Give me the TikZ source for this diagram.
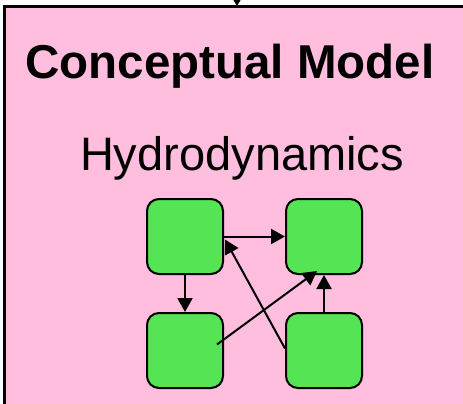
\documentclass[tikz,border=0pt]{standalone}
\usepackage{fontspec}
\setmainfont{Liberation Sans}
\usetikzlibrary{arrows.meta,positioning}

\definecolor{modelpink}{RGB}{255,190,222}
\definecolor{procgreen}{RGB}{84,228,84}

\begin{document}
\begin{tikzpicture}[x=1pt, y=-1pt,
      node distance=37pt and 61pt,
      blk/.style={draw, line width=2pt, rounded corners=12pt, fill=procgreen,
                  minimum width=76pt, minimum height=75pt, inner sep=0pt},
      arr/.style={-{Triangle[length=14pt, width=15pt]}, line width=2pt}]
    \useasboundingbox (0,0) rectangle (463,404);
    % outer frame, cut off at the right and at the bottom
    \draw[line width=3pt, fill=modelpink] (4,7) rectangle (475,420);
    \coordinate (feed) at (237,-4);
    \coordinate (top) at (237,6);
    \draw[-{Triangle[length=7pt, width=8pt]}, line width=2pt] (feed) -- (top);
    \node[anchor=base, font=\fontsize{47.5}{52}\selectfont\bfseries] (title) at (230,78) {Conceptual Model};
    \node[anchor=base, font=\fontsize{47}{52}\selectfont] (sub) at (242,170) {Hydrodynamics};
    \node[blk] (tl) at (185,236.5) {};
    \node[blk, right=of tl] (tr) {};
    \node[blk, below=of tl] (bl) {};
    \node[blk, below=of tr] (br) {};
    \draw[arr] (tl) -- (tr);
    \draw[arr] (tl) -- (bl);
    \draw[arr] (br) -- (tr);
    \draw[arr] ([shift={(32,-6)}]bl.center) -- ([shift={(-7,-4)}]tr.south);
    \draw[arr] ([yshift=2pt]br.west) -- ([shift={(1,3)}]tl.east);
  \end{tikzpicture}
\end{document}
